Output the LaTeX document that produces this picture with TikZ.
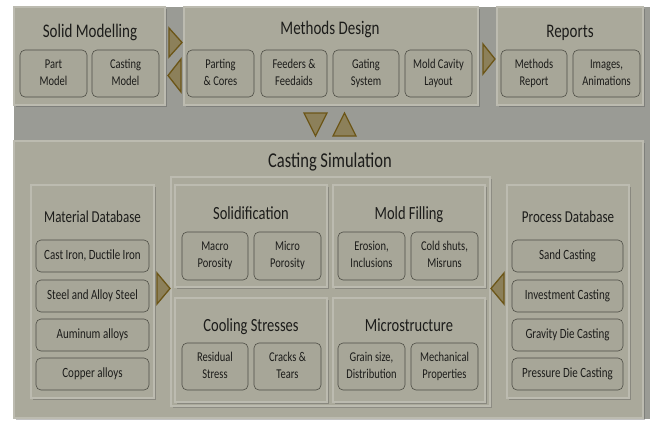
\documentclass[tikz,border=0pt]{standalone}
\usepackage{fontspec}
\usepackage{graphicx}
\setmainfont{Carlito}
\usetikzlibrary{shadows}
\definecolor{bgc}{RGB}{154,155,149}
\definecolor{panelc}{RGB}{170,169,155}
\definecolor{panelline}{RGB}{188,187,176}
\definecolor{boxc}{RGB}{167,166,152}
\definecolor{boxline}{RGB}{78,78,70}
\definecolor{txtc}{RGB}{28,28,26}
\definecolor{trifill}{RGB}{140,128,90}
\definecolor{triline}{RGB}{108,86,24}
\newcommand\vtx[1]{\scalebox{1}[1.28]{\begin{tabular}{@{}c@{}}#1\end{tabular}}}
\newcommand\vtl[1]{\scalebox{1}[1.28]{#1}}
\newcommand\mkbox[7]{\node[#1, minimum width={#5-#3}, minimum height={#6-#4}] (#2) at ({(#3+#5)/2},{(#4+#6)/2}) {#7};}
\tikzset{
  panel/.style={draw=panelline, line width=1.2pt, fill=panelc, inner sep=0pt,
    drop shadow={shadow xshift=2pt, shadow yshift=-2pt, opacity=0.35, fill=black!70}},
  group/.style={draw=panelline, line width=1.2pt, fill=panelc, inner sep=0pt,
    drop shadow={shadow xshift=2pt, shadow yshift=-2pt, opacity=0.3, fill=black!70}},
  rbox/.style={draw=boxline, line width=0.6pt, fill=boxc, rounded corners=5pt, inner sep=0pt,
    align=center, text=txtc, font=\fontsize{10.5}{13.3}\selectfont},
  dbox/.style={rbox, font=\fontsize{11}{13}\selectfont},
  ttl/.style={anchor=base, text=txtc, inner sep=0pt, font=\fontsize{15}{18}\selectfont},
  bigttl/.style={ttl, font=\fontsize{16.5}{20}\selectfont},
  subttl/.style={ttl, font=\fontsize{14.5}{18}\selectfont},
  dbttl/.style={ttl, font=\fontsize{13}{16}\selectfont},
  tri/.style={fill=trifill, draw=triline, line width=1.3pt, line join=miter}
}
\begin{document}
\begin{tikzpicture}[x=1pt,y=-1pt]
\useasboundingbox (0,0) rectangle (650,421);
\fill[white] (0,0) rectangle (650,421);
\fill[bgc] (14,7) rectangle (650,419);

% top row panels
\mkbox{panel}{solid}{14}{7}{165}{105}{}
\node[ttl] (solidT) at (90,37) {\vtl{Solid Modelling}};
\mkbox{rbox}{pm}{20}{50}{87}{97}{\vtx{Part\\Model}}
\mkbox{rbox}{cm}{92}{50}{159}{97}{\vtx{Casting\\Model}}

\mkbox{panel}{methods}{184}{7}{478}{105}{}
\node[ttl] (methodsT) at (330,34) {\vtl{Methods Design}};
\mkbox{rbox}{pc}{187}{50}{254}{97}{\vtx{Parting\\\& Cores}}
\mkbox{rbox}{ff}{261}{50}{327}{97}{\vtx{Feeders \&\\Feedaids}}
\mkbox{rbox}{gs}{333}{50}{399}{97}{\vtx{Gating\\System}}
\mkbox{rbox}{mc}{405}{50}{472}{97}{\vtx{Mold Cavity\\Layout}}

\mkbox{panel}{reports}{497}{7}{643}{105}{}
\node[ttl] (reportsT) at (570,37) {\vtl{Reports}};
\mkbox{rbox}{mr}{501}{50}{567}{97}{\vtx{Methods\\Report}}
\mkbox{rbox}{ia}{573}{50}{640}{97}{\vtx{Images,\\Animations}}

% triangles top row
\draw[tri] (169,28) -- (182,42.5) -- (169,57) -- cycle;
\draw[tri] (181,59) -- (168,75.5) -- (181,92) -- cycle;
\draw[tri] (483,44) -- (495,59) -- (483,74) -- cycle;
\draw[tri] (304,113) -- (327,113) -- (315.5,136) -- cycle;
\draw[tri] (333,136) -- (356,136) -- (344.5,113) -- cycle;

% casting simulation
\mkbox{panel}{sim}{14}{141}{643}{418}{}
\node[bigttl] (simT) at (330,167) {\vtl{Casting Simulation}};

\mkbox{panel}{matdb}{31}{185}{154}{398}{}
\node[dbttl] (matdbT) at (92.5,222) {\vtl{Material Database}};
\mkbox{dbox}{ci}{36}{240}{149}{272}{\vtl{Cast Iron, Ductile Iron}}
\mkbox{dbox}{st}{36}{280}{149}{312}{\vtl{Steel and Alloy Steel}}
\mkbox{dbox}{al}{36}{319}{149}{351}{\vtl{Auminum alloys}}
\mkbox{dbox}{cu}{36}{358}{149}{390}{\vtl{Copper alloys}}

\mkbox{group}{grp}{171}{177}{490}{406}{}
\mkbox{panel}{solidif}{175}{185}{327}{287}{}
\node[subttl] (solidifT) at (251,219) {\vtl{Solidification}};
\mkbox{rbox}{mac}{182}{232}{248}{280}{\vtx{Macro\\Porosity}}
\mkbox{rbox}{mic}{254}{232}{321}{280}{\vtx{Micro\\Porosity}}

\mkbox{panel}{fill}{333}{185}{485}{287}{}
\node[subttl] (fillT) at (409,219) {\vtl{Mold Filling}};
\mkbox{rbox}{er}{338}{232}{405}{280}{\vtx{Erosion,\\Inclusions}}
\mkbox{rbox}{cs}{411}{232}{478}{280}{\vtx{Cold shuts,\\Misruns}}

\mkbox{panel}{cool}{175}{298}{327}{402}{}
\node[subttl] (coolT) at (251,331) {\vtl{Cooling Stresses}};
\mkbox{rbox}{rs}{182}{343}{248}{390}{\vtx{Residual\\Stress}}
\mkbox{rbox}{ct}{254}{343}{321}{390}{\vtx{Cracks \&\\Tears}}

\mkbox{panel}{micro}{333}{298}{485}{402}{}
\node[subttl] (microT) at (409,331) {\vtl{Microstructure}};
\mkbox{rbox}{gd}{338}{343}{405}{390}{\vtx{Grain size,\\Distribution}}
\mkbox{rbox}{mp}{411}{343}{478}{390}{\vtx{Mechanical\\Properties}}

\mkbox{panel}{procdb}{507}{185}{629}{398}{}
\node[dbttl] (procdbT) at (568,222) {\vtl{Process Database}};
\mkbox{dbox}{sc}{512}{240}{623}{272}{\vtl{Sand Casting}}
\mkbox{dbox}{ic}{512}{280}{623}{312}{\vtl{Investment Casting}}
\mkbox{dbox}{gdc}{512}{319}{623}{351}{\vtl{Gravity Die Casting}}
\mkbox{dbox}{pdc}{512}{358}{623}{390}{\vtl{Pressure Die Casting}}

% side triangles
\draw[tri] (157,273) -- (170,288.5) -- (157,304) -- cycle;
\draw[tri] (504,273) -- (491,288.5) -- (504,304) -- cycle;
\end{tikzpicture}
\end{document}
